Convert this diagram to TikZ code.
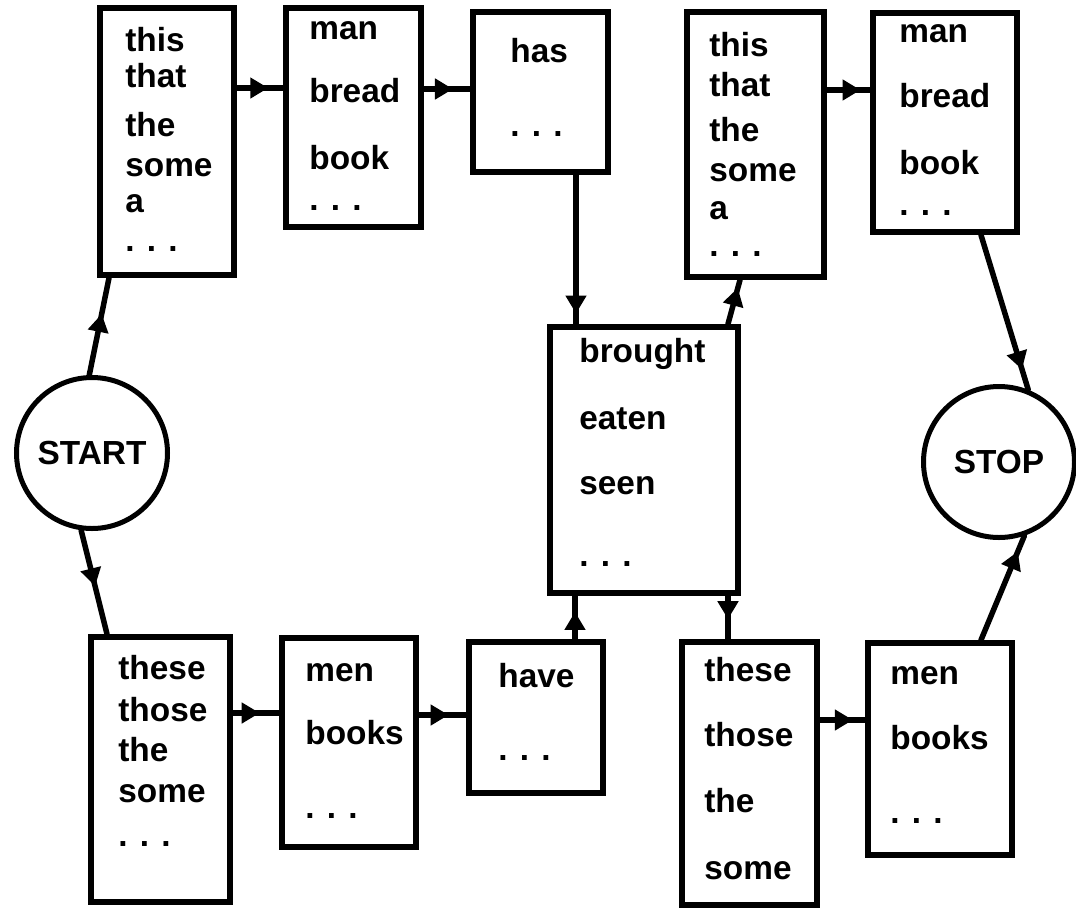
\documentclass[tikz,border=0pt]{standalone}
\usepackage{fontspec}
\setmainfont{Liberation Sans}
\usetikzlibrary{arrows.meta,decorations.markings}
\newcommand\etcdots{.\hspace{7pt}.\hspace{7pt}.}

\begin{document}
\begin{tikzpicture}[x=0.2mm,y=-0.2mm,line cap=round,
  font=\fontsize{19}{22}\selectfont\bfseries,
  wbox/.style={draw,line width=1.2mm,inner sep=0pt},
  boxdim/.style 2 args={minimum width=#1*0.2mm,minimum height=#2*0.2mm},
  term/.style={draw,circle,line width=1mm,inner sep=0pt,minimum size=30.2mm},
  word/.style={anchor=mid west,inner sep=0pt},
  etc/.style={anchor=base west,inner sep=0pt},
  flow/.style={line width=1.1mm,postaction={decorate},
    decoration={markings,mark=at position #1 with {\arrow{Triangle[length=3.6mm,width=4mm]}}}}]
\useasboundingbox (0,0) rectangle (1076,910);

\node[wbox,boxdim={134}{267}] (this1) at (167,141.5) {};
\node[wbox,boxdim={135}{219}] (man1) at (353.5,117.5) {};
\node[wbox,boxdim={135}{160}] (has) at (540.5,92) {};
\node[wbox,boxdim={137}{265}] (this2) at (755.5,144.5) {};
\node[wbox,boxdim={144}{219}] (man2) at (945,122.5) {};
\node[wbox,boxdim={188}{266}] (verb) at (644,460) {};
\node[wbox,boxdim={139}{265}] (these1) at (160.5,769.5) {};
\node[wbox,boxdim={134}{209}] (men1) at (349,742.5) {};
\node[wbox,boxdim={134}{151}] (have) at (536,717.5) {};
\node[wbox,boxdim={135}{263}] (these2) at (749.5,773.5) {};
\node[wbox,boxdim={144}{212}] (men2) at (940,749) {};
\node[term] (start) at (92,453) {START};
\node[term] (stop) at (999,462) {STOP};

\foreach \w/\y in {this/47,that/83,the/132,some/172,a/208}
  \node[word] (this1-\y) at (125,\y) {\w};
\node[etc] (this1-etc) at (125,251) {\etcdots};
\foreach \w/\y in {man/35,bread/98,book/165}
  \node[word] (man1-\y) at (309,\y) {\w};
\node[etc] (man1-etc) at (309,210) {\etcdots};
\node[word] (has-w) at (510,58) {has};
\node[etc] (has-etc) at (510,136) {\etcdots};
\foreach \w/\y in {this/52,that/92,the/137,some/177,a/215}
  \node[word] (this2-\y) at (709,\y) {\w};
\node[etc] (this2-etc) at (709,256) {\etcdots};
\foreach \w/\y in {man/38,bread/103,book/170}
  \node[word] (man2-\y) at (899,\y) {\w};
\node[etc] (man2-etc) at (899,215) {\etcdots};
\foreach \w/\y in {brought/358,eaten/425,seen/490}
  \node[word] (verb-\y) at (579,\y) {\w};
\node[etc] (verb-etc) at (579,566) {\etcdots};
\foreach \w/\y in {these/675,those/717,the/757,some/798}
  \node[word] (these1-\y) at (118,\y) {\w};
\node[etc] (these1-etc) at (118,846) {\etcdots};
\foreach \w/\y in {men/677,books/740}
  \node[word] (men1-\y) at (305,\y) {\w};
\node[etc] (men1-etc) at (305,818) {\etcdots};
\node[word] (have-w) at (498,683) {have};
\node[etc] (have-etc) at (498,760) {\etcdots};
\foreach \w/\y in {these/677,those/742,the/808,some/875}
  \node[word] (these2-\y) at (704,\y) {\w};
\foreach \w/\y in {men/680,books/745}
  \node[word] (men2-\y) at (890,\y) {\w};
\node[etc] (men2-etc) at (890,823) {\etcdots};

\draw[flow=0.63] (start.92) -- (this1.south -| 109,0);
\draw[flow=0.54] (start.-98) -- (these1.north -| 107,0);
\draw[flow=0.68] (this1.east |- 0,88) -- (man1.west |- 0,88);
\draw[flow=0.63] (man1.east |- 0,89) -- (has.west |- 0,89);
\draw[flow=0.93] (has.south -| 576,0) -- (verb.north -| 576,0);
\draw[flow=0.82] (verb.north -| 728,0) -- (this2.south -| 740,0);
\draw[flow=0.78] (this2.east |- 0,90) -- (man2.west |- 0,90);
\draw[flow=0.87] (man2.south -| 981,0) -- (stop.68);
\draw[flow=0.58] (these1.east |- 0,713) -- (men1.west |- 0,713);
\draw[flow=0.63] (men1.east |- 0,715) -- (have.west |- 0,715);
\draw[flow=0.63] (have.north -| 575,0) -- (verb.south -| 575,0);
\draw[flow=0.54] (verb.south -| 728,0) -- (these2.north -| 728,0);
\draw[flow=0.73] (these2.east |- 0,720) -- (men2.west |- 0,720);
\draw[flow=0.85] (men2.north -| 981,0) -- (stop.-71);
\end{tikzpicture}
\end{document}
